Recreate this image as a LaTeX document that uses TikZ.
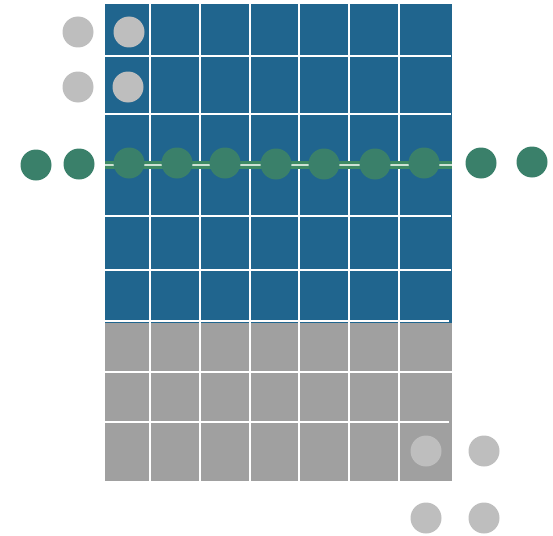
\documentclass[tikz,border=0pt]{standalone}
\usetikzlibrary{positioning}
\definecolor{seablue}{RGB}{32,101,142}
\definecolor{pine}{RGB}{58,128,106}
\definecolor{bandgreen}{RGB}{62,138,100}
\definecolor{pebble}{RGB}{190,190,190}
\definecolor{slate}{RGB}{160,160,160}
\definecolor{dashpale}{RGB}{205,225,212}

\begin{document}
\begin{tikzpicture}[x=1pt, y=-1pt,
    dot/.style={circle, inner sep=0pt, minimum size=31pt},
    live/.style={dot, fill=pine},
    idle/.style={dot, fill=pebble},
    gridline/.style={draw=white, line width=1.4pt}]
\useasboundingbox (0,0) rectangle (553,535);
\fill[seablue] (105,4) rectangle (452,323);
\fill[slate] (105,323) rectangle (452,481);
% grid
\foreach \x in {150,200,250,299,349,399}
  \draw[gridline] (\x,4) -- (\x,481);
\foreach \y/\e in {56/451,114/451,216/451,270/451,321/449,372/452,422/449}
  \draw[gridline] (105,\y) -- (\e,\y);
% band
\coordinate (bandL) at (105,165);
\coordinate (bandR) at (452,165);
\draw[bandgreen, line width=8.5pt] (bandL) -- (bandR);
\draw[dashpale, line width=2pt] (bandL) -- (bandR);
% green row
\foreach \x/\y [count=\i] in {36/165,79/164,129/163,177/163,225/163,276/164,
    324/164,375/164,424/163,481/163,532/162}
  \node[live] (g\i) at (\x,\y) {};
% grey ones
\node[idle] (a1) at (78,32) {};
\node[idle] (a2) at (129,32) {};
\node[idle] (b1) at (78,87) {};
\node[idle] (b2) at (128,87) {};
\node[idle] (c1) at (426,451) {};
\node[idle] (c2) at (484,451) {};
\node[idle] (d1) at (426,518) {};
\node[idle] (d2) at (484,518) {};
\end{tikzpicture}
\end{document}
